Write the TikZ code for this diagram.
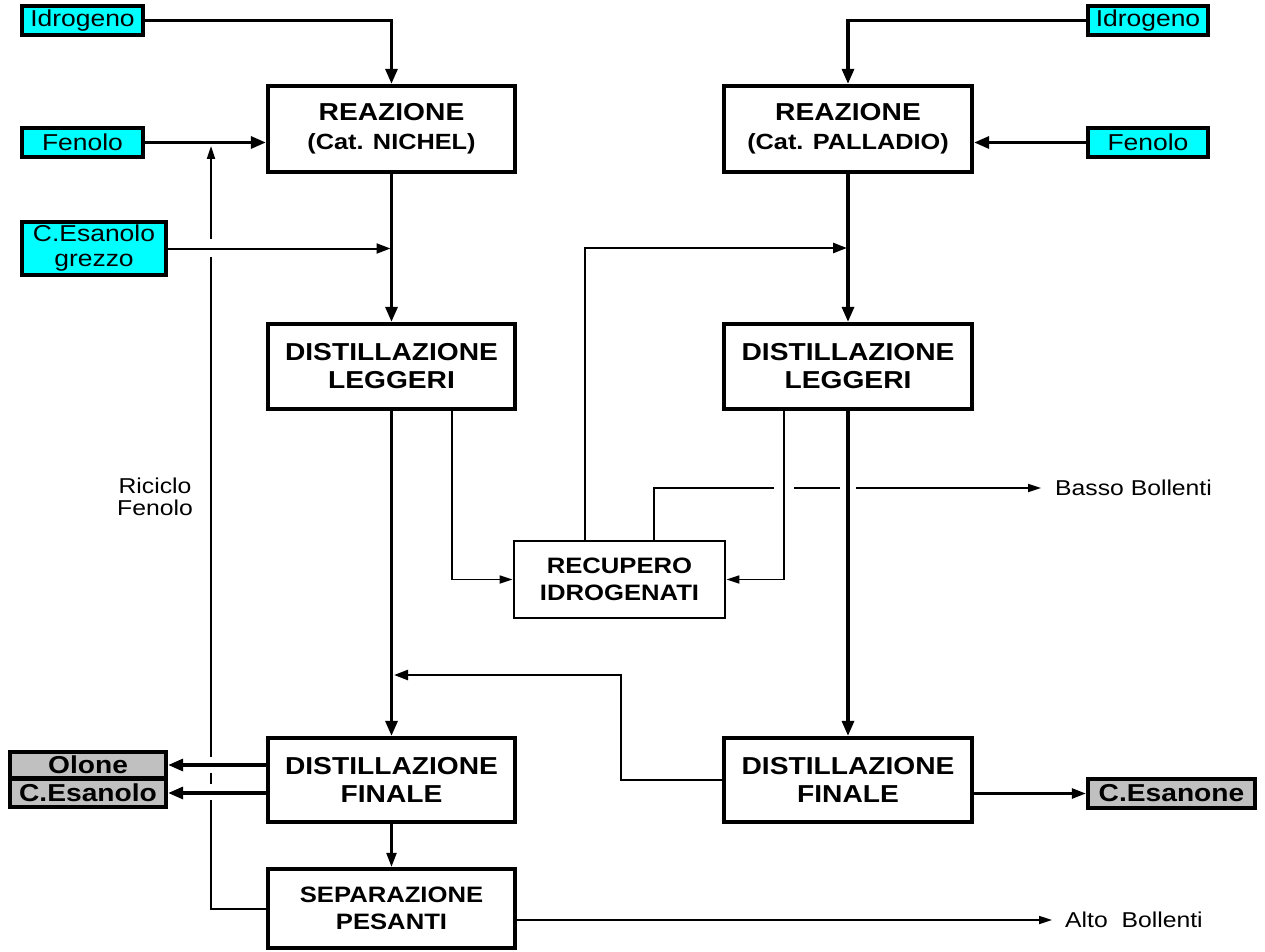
\documentclass[tikz,border=0pt]{standalone}
\usepackage{fontspec}
\setmainfont{Liberation Sans}[FakeStretch=1.15]
\usepackage{tikz}
\usetikzlibrary{arrows.meta, positioning, calc}
\definecolor{FeedCyan}{RGB}{0, 255, 255}
\definecolor{ProdGray}{RGB}{192, 192, 192}

\begin{document}
\begin{tikzpicture}[x=1pt, y=-1pt,
  unitbox/.style={draw, line width=4.3pt, minimum width=247pt, minimum height=85pt,
    inner sep=0pt, align=center, font=\bfseries\fontsize{24.5}{28}\selectfont},
  recbox/.style={unitbox, line width=2.8pt, minimum width=211pt, minimum height=77pt,
    font=\bfseries\fontsize{22.3}{27}\selectfont},
  feedbox/.style={draw, fill=FeedCyan, line width=4.3pt, minimum width=121pt,
    minimum height=29pt, inner sep=0pt, align=center, font=\fontsize{23}{25}\selectfont},
  prodbox/.style={draw, fill=ProdGray, line width=4.3pt, minimum width=156pt,
    inner sep=0pt, font=\bfseries\fontsize{24.5}{26}\selectfont},
  note/.style={inner sep=0pt, align=center, font=\fontsize{21.5}{22}\selectfont},
  mainflow/.style={line width=3.2pt, -{Triangle[length=15pt, width=12pt]}},
  sideflow/.style={line width=2.3pt, -{Triangle[length=14pt, width=10pt]}},
  thinflow/.style={line width=1.7pt, -{Triangle[length=13pt, width=8pt]}},
  gap/.style={fill=white}]
  \path[use as bounding box] (0,0) rectangle (1265,952);

  % Left line: Cat. Nichel
  \node[feedbox] (h2L) at (82.5,20.5) {Idrogeno};
  \node[feedbox] (fenL) at (82.5,142.5) {Fenolo};
  \node[feedbox, minimum width=144pt, minimum height=53pt] (grezzo) at (94,248.5) {C.Esanolo\\grezzo};
  \node[unitbox, minimum height=86pt] (reacL) at (391.5,129)
    {REAZIONE\\[1pt]{\fontsize{22}{26}\selectfont(Cat. NICHEL)}};
  \node[unitbox] (distLL) at (391.5,366.5) {DISTILLAZIONE\\LEGGERI};
  \node[unitbox, minimum height=84pt] (finL) at (391.5,780) {DISTILLAZIONE\\FINALE};
  \node[recbox, minimum width=247pt, minimum height=79pt, line width=4.3pt] (sep) at (391.5,908.5)
    {SEPARAZIONE\\PESANTI};
  \node[prodbox, minimum height=26pt] (olone) at (88,765) {Olone};
  \node[prodbox, minimum height=28pt] (cesL) at (88,793) {C.Esanolo};

  % Right line: Cat. Palladio
  \node[feedbox, minimum width=120pt] (h2R) at (1148,20.5) {Idrogeno};
  \node[feedbox, minimum width=120pt] (fenR) at (1148,142.5) {Fenolo};
  \node[unitbox, minimum width=248pt, minimum height=86pt] (reacR) at (848,129)
    {REAZIONE\\[1pt]{\fontsize{22}{26}\selectfont(Cat. PALLADIO)}};
  \node[unitbox, minimum width=248pt] (distLR) at (848,366.5) {DISTILLAZIONE\\LEGGERI};
  \node[unitbox, minimum width=248pt, minimum height=84pt] (finR) at (848,780) {DISTILLAZIONE\\FINALE};
  \node[prodbox, minimum width=167pt, minimum height=29pt] (cesanone) at (1171.5,793.5) {C.Esanone};

  % Recupero
  \node[recbox] (recup) at (619.5,579.5) {RECUPERO\\IDROGENATI};

  % Outputs and labels
  \node[note] (ricic) at (155,497) {Riciclo\\Fenolo};
  \node[note, anchor=west] (basso) at (1055,488) {Basso Bollenti};
  \node[note, anchor=west] (alto) at (1065,920) {Alto~~Bollenti};

  \coordinate (ricTop) at (211,146);
  \coordinate (mixR) at (847,248);
  \coordinate (retR) at (621,675);
  \coordinate (retL) at (394,675);

  % Riciclo fenolo, broken where it is crossed
  \draw[thinflow, line width=2pt] (sep.west) -| (ricTop);
  \fill[gap] (204,239) rectangle (218,257);
  \fill[gap] (204,757) rectangle (218,773);
  \fill[gap] (204,784) rectangle (218,800);

  % Feeds
  \draw[mainflow] (h2L.east) -| (reacL.north);
  \draw[mainflow] (fenL.east) -- (fenL.east -| reacL.west);
  \draw[sideflow, line width=2pt] (grezzo.east) -- ([xshift=-1pt]grezzo.east -| reacL.south);
  \draw[mainflow] (h2R.west) -| (reacR.north);
  \draw[mainflow] (fenR.west) -- (fenR.west -| reacR.east);

  % Left main flow
  \draw[mainflow] (reacL.south) -- (distLL.north);
  \draw[mainflow] (distLL.south) -- (finL.north);
  \draw[sideflow] (finL.south) -- (sep.north);
  \draw[mainflow] (olone.east -| finL.west) -- (olone.east);
  \draw[mainflow] (cesL.east -| finL.west) -- (cesL.east);
  \draw[thinflow] (alto.west -| sep.east) -- ([xshift=-13pt]alto.west);

  % Recupero idrogenati
  \draw[thinflow] ([xshift=60.5pt]distLL.south) |- (recup.west);
  \draw[sideflow, line width=2.6pt] ([xshift=-34.5pt]recup.north) |- (mixR);
  \draw[thinflow] ([xshift=34.5pt]recup.north) |- ([xshift=-14pt]basso.west);
  \fill[gap] (774,484) rectangle (794,492);
  \fill[gap] (840,484) rectangle (856,492);
  \draw[thinflow] ([xshift=-64pt]distLR.south) |- (recup.east);

  % Right main flow
  \draw[mainflow] (reacR.south) -- (distLR.north);
  \draw[mainflow] (distLR.south) -- (finR.north);
  \draw[sideflow] (finR.west) -| (retR) -- (retL);
  \draw[sideflow, line width=2.6pt] (cesanone.west -| finR.east) -- (cesanone.west);
\end{tikzpicture}
\end{document}
